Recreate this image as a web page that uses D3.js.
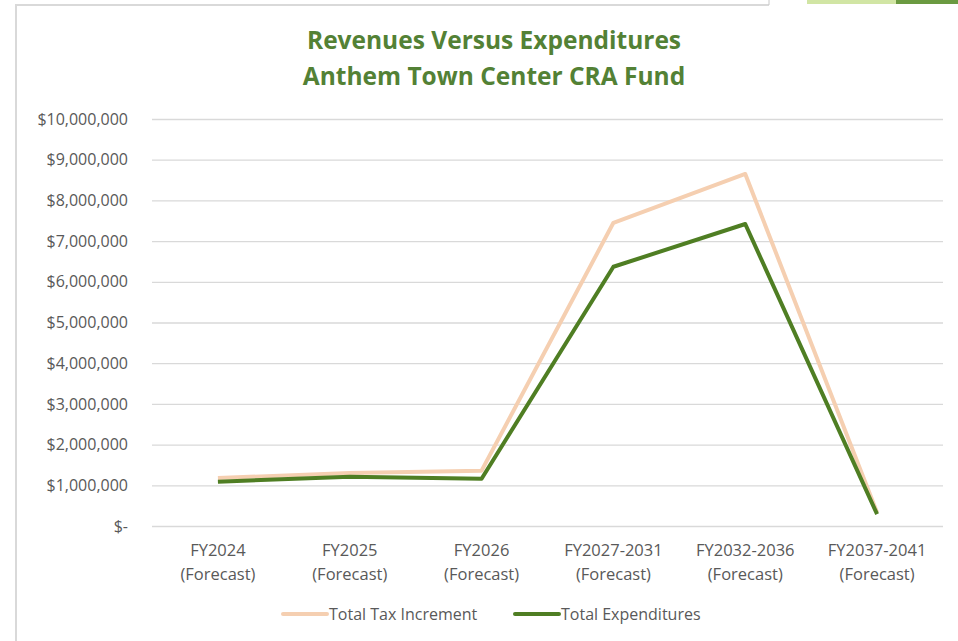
<!DOCTYPE html>
<html>
<head>
<meta charset="utf-8">
<script src="https://cdn.jsdelivr.net/npm/d3@7"></script>
<style>
  html, body { margin: 0; padding: 0; background: #fff; }
  svg text { font-family: "Open Sans", "Noto Sans", sans-serif; }
</style>
</head>
<body>
<div id="chart"></div>
<script>
var CATEGORIES = ['FY2024', 'FY2025', 'FY2026', 'FY2027-2031', 'FY2032-2036', 'FY2037-2041'];
var SUBLABEL = '(Forecast)';
var TAX_INCREMENT = [1180000, 1300000, 1360000, 7450000, 8650000, 330000];
var EXPENDITURES = [1090000, 1210000, 1160000, 6370000, 7420000, 290000];
var Y_TICKS = [0, 1000000, 2000000, 3000000, 4000000, 5000000, 6000000, 7000000, 8000000, 9000000, 10000000];
var SERIES = [
    {name: 'Total Tax Increment', values: TAX_INCREMENT, color: '#f5cfb1'},
    {name: 'Total Expenditures', values: EXPENDITURES, color: '#4f7e23'}
];

var WIDTH = 958, HEIGHT = 641;
var margin = {top: 119, left: 152, bottom: 641 - 526, right: 958 - 943};

var svg = d3.select('#chart').append('svg')
    .attr('width', WIDTH)
    .attr('height', HEIGHT);

// frame of the chart box (cut at top/left like the screenshot)
svg.append('path')
    .attr('d', 'M16,641 L16,5 L769,5')
    .attr('fill', 'none')
    .attr('stroke', '#d9d9d9')
    .attr('stroke-width', 2);
svg.append('line')
    .attr('x1', 769).attr('x2', 769).attr('y1', 0).attr('y2', 5)
    .attr('stroke', '#c8c8c8');
svg.append('rect').attr('x', 807).attr('y', 0).attr('width', 90).attr('height', 4).attr('fill', '#d1e5a4');
svg.append('rect').attr('x', 896).attr('y', 0).attr('width', 62).attr('height', 4).attr('fill', '#6b9a41');

var sx = d3.scaleBand()
    .domain(CATEGORIES)
    .range([margin.left, WIDTH - margin.right]);
var sy = d3.scaleLinear()
    .domain([0, 10000000])
    .range([HEIGHT - margin.bottom, margin.top]);

// title
var title = svg.append('text')
    .attr('text-anchor', 'middle')
    .attr('fill', '#538135')
    .attr('font-weight', 'bold')
    .attr('font-size', 24.5);
title.append('tspan').attr('x', 494).attr('y', 49).text('Revenues Versus Expenditures');
title.append('tspan').attr('x', 494).attr('y', 85).text('Anthem Town Center CRA Fund');

// y axis with gridlines
var ay = d3.axisLeft(sy)
    .tickValues(Y_TICKS)
    .tickSize(-(WIDTH - margin.left - margin.right))
    .tickPadding(24)
    .tickFormat(function(d) { return d === 0 ? '$-' : '$' + d3.format(',')(d); });

var gy = svg.append('g')
    .attr('transform', 'translate(' + margin.left + ',0)')
    .call(ay);
gy.select('.domain').remove();
gy.selectAll('.tick line').attr('stroke', '#d9d9d9').attr('stroke-width', 1.3);
gy.selectAll('.tick text')
    .attr('fill', '#595959')
    .attr('font-size', 16);

// x axis labels
var ax = d3.axisBottom(sx).tickSize(0).tickPadding(0);
var gx = svg.append('g')
    .attr('transform', 'translate(0,' + (HEIGHT - margin.bottom) + ')')
    .call(ax);
gx.select('.domain').remove();
gx.selectAll('.tick text').remove();
gx.selectAll('.tick').each(function(d) {
    var t = d3.select(this).append('text')
        .attr('text-anchor', 'middle')
        .attr('fill', '#595959')
        .attr('font-size', 16.5);
    t.append('tspan').attr('x', 0).attr('y', 30).text(d);
    t.append('tspan').attr('x', 0).attr('y', 54).text(SUBLABEL);
});

// lines
var line = d3.line()
    .x(function(d, i) { return sx(CATEGORIES[i]) + sx.bandwidth() / 2; })
    .y(function(d) { return sy(d); });

svg.selectAll('.series')
    .data(SERIES)
    .enter().append('path')
    .attr('class', 'series')
    .attr('d', function(s) { return line(s.values); })
    .attr('fill', 'none')
    .attr('stroke', function(s) { return s.color; })
    .attr('stroke-width', 4)
    .attr('stroke-linejoin', 'round');

// legend
var LEGEND_X = [283, 515];
var lg = svg.selectAll('.legend')
    .data(SERIES)
    .enter().append('g')
    .attr('class', 'legend')
    .attr('transform', function(s, i) { return 'translate(' + LEGEND_X[i] + ',614)'; });
lg.append('line')
    .attr('x1', 0).attr('x2', 44)
    .attr('stroke', function(s) { return s.color; })
    .attr('stroke-width', 4)
    .attr('stroke-linecap', 'round');
lg.append('text')
    .attr('x', 46)
    .attr('y', 5.5)
    .attr('fill', '#595959')
    .attr('font-size', 16)
    .text(function(s) { return s.name; });
</script>
</body>
</html>
